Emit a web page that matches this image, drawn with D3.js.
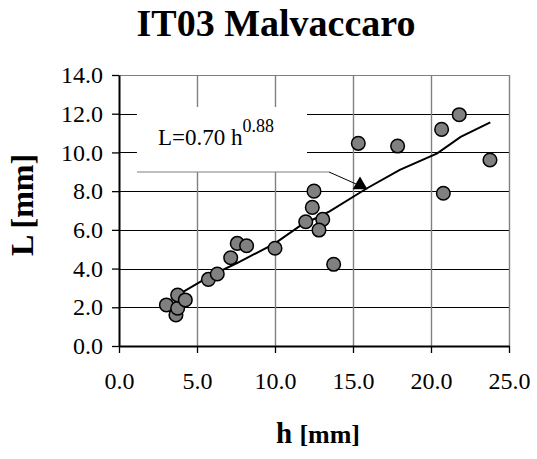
<!DOCTYPE html>
<html>
<head>
<meta charset="utf-8">
<script src="https://cdn.jsdelivr.net/npm/d3@7"></script>
<style>
  body { margin: 0; background: #fff; }
  text { font-family: "Liberation Serif", "Times New Roman", serif; }
</style>
</head>
<body>
<svg id="chart"></svg>
<script>
// measured points (h, L)
var hValues = [3.04, 3.65, 3.76, 3.76, 4.25, 5.73, 6.3, 7.16, 7.58, 8.18, 10.0, 11.97, 12.39, 12.5, 13.06, 12.82, 13.76, 15.34, 17.86, 20.68, 21.81, 23.78, 20.79]
var lValues = [2.12, 1.6, 1.95, 2.63, 2.38, 3.44, 3.72, 4.56, 5.3, 5.18, 5.05, 6.42, 7.16, 8.0, 6.54, 5.99, 4.22, 10.47, 10.33, 11.19, 11.95, 9.61, 7.89]
// fitted line
var fitH = [4.0, 5.8, 7.6, 10.0, 11.6, 13.5, 15.9, 18.0, 20.4, 21.9, 23.8]
var fitL = [2.75, 3.6, 4.3, 5.3, 6.2, 6.95, 8.15, 9.1, 9.95, 10.8, 11.55]
// triangle marker
var markH = 15.45, markL = 8.32
var xTicks = [0, 5, 10, 15, 20, 25]
var yTicks = [0, 2, 4, 6, 8, 10, 12, 14]

var width = 537,
    height = 459
var margin = {left: 119, right: 28, top: 75, bottom: 113}

var svg = d3.select("#chart")
    .attr("width", width)
    .attr("height", height)

var x = d3.scaleLinear().domain([0, 25]).range([margin.left, width - margin.right])
var y = d3.scaleLinear().domain([0, 14]).range([height - margin.bottom, margin.top])

// grid
svg.append("g")
    .selectAll("line")
    .data(yTicks.slice(1))
    .enter().append("line")
    .attr("x1", x(0)).attr("x2", x(25))
    .attr("y1", function (d) { return Math.round(y(d)) + 0.5 })
    .attr("y2", function (d) { return Math.round(y(d)) + 0.5 })
    .attr("stroke", function (d) { return d == 14 ? "#808080" : "#000" })
    .attr("stroke-width", 1)
svg.append("g")
    .selectAll("line")
    .data(xTicks.slice(1))
    .enter().append("line")
    .attr("x1", function (d) { return Math.round(x(d)) + 0.5 })
    .attr("x2", function (d) { return Math.round(x(d)) + 0.5 })
    .attr("y1", y(0)).attr("y2", y(14))
    .attr("stroke", "#808080")
    .attr("stroke-width", 1.4)

// axes
var xAxis = svg.append("g")
    .attr("transform", "translate(0," + y(0) + ")")
    .call(d3.axisBottom(x).tickValues(xTicks).tickFormat(d3.format(".1f")).tickSizeInner(7).tickSizeOuter(0).tickPadding(19))
var yAxis = svg.append("g")
    .attr("transform", "translate(" + x(0) + ",0)")
    .call(d3.axisLeft(y).tickValues(yTicks).tickFormat(d3.format(".1f")).tickSizeInner(7).tickSizeOuter(0).tickPadding(9))
xAxis.select(".domain").attr("stroke-width", 2)
yAxis.select(".domain").attr("stroke-width", 2)
svg.selectAll(".tick line").attr("stroke-width", 1.3)
svg.selectAll(".tick text")
    .attr("font-family", "Liberation Serif")
    .attr("font-size", 24)
    .attr("fill", "#000")

// equation box + leader
svg.append("rect")
    .attr("x", x(1.15)).attr("y", y(12.35))
    .attr("width", x(12.05) - x(1.15))
    .attr("height", y(8.99) - y(12.35))
    .attr("fill", "#fff")
svg.append("polyline")
    .attr("points", [[x(1.15), y(8.99)], [x(13.46), y(8.99)]].join(" "))
    .attr("fill", "none").attr("stroke", "#808080").attr("stroke-width", 1.2)
svg.append("line")
    .attr("x1", x(13.46)).attr("y1", y(8.99))
    .attr("x2", x(15.25)).attr("y2", y(8.35))
    .attr("stroke", "#000").attr("stroke-width", 1)
var eq = svg.append("text")
    .attr("x", x(2.5)).attr("y", y(10.38))
    .attr("font-size", 23)
eq.append("tspan").text("L=0.70 h")
eq.append("tspan").attr("dy", -13).attr("font-size", 18).text("0.88")

// fitted line
var fitPts = fitH.map(function (d, i) { return [d, fitL[i]] })
svg.append("path")
    .datum(fitPts)
    .attr("fill", "none")
    .attr("stroke", "#000")
    .attr("stroke-width", 2)
    .attr("d", d3.line().x(function (d) { return x(d[0]) }).y(function (d) { return y(d[1]) }))

// points
var pts = hValues.map(function (d, i) { return {h: d, l: lValues[i]} })
svg.append("g")
    .selectAll("circle")
    .data(pts)
    .enter().append("circle")
    .attr("cx", function (d) { return x(d.h) })
    .attr("cy", function (d) { return y(d.l) })
    .attr("r", 6.8)
    .attr("fill", "#808080")
    .attr("stroke", "#000")
    .attr("stroke-width", 1.5)

// triangle
svg.append("path")
    .attr("d", d3.symbol().type(d3.symbolTriangle).size(95))
    .attr("transform", "translate(" + x(markH) + "," + y(markL) + ")")
    .attr("fill", "#000")

// titles
svg.append("text")
    .attr("x", 276).attr("y", 36)
    .attr("text-anchor", "middle")
    .attr("font-size", 38)
    .attr("font-weight", "bold")
    .text("IT03 Malvaccaro")
svg.append("text")
    .attr("transform", "translate(33,205) rotate(-90)")
    .attr("text-anchor", "middle")
    .attr("font-size", 32)
    .attr("font-weight", "bold")
    .text("L [mm]")
var xt = svg.append("text")
    .attr("x", 318).attr("y", 443)
    .attr("text-anchor", "middle")
    .attr("font-weight", "bold")
    .attr("font-size", 29)
xt.append("tspan").text("h ")
xt.append("tspan").attr("font-size", 26).text("[mm]")
</script>
</body>
</html>
